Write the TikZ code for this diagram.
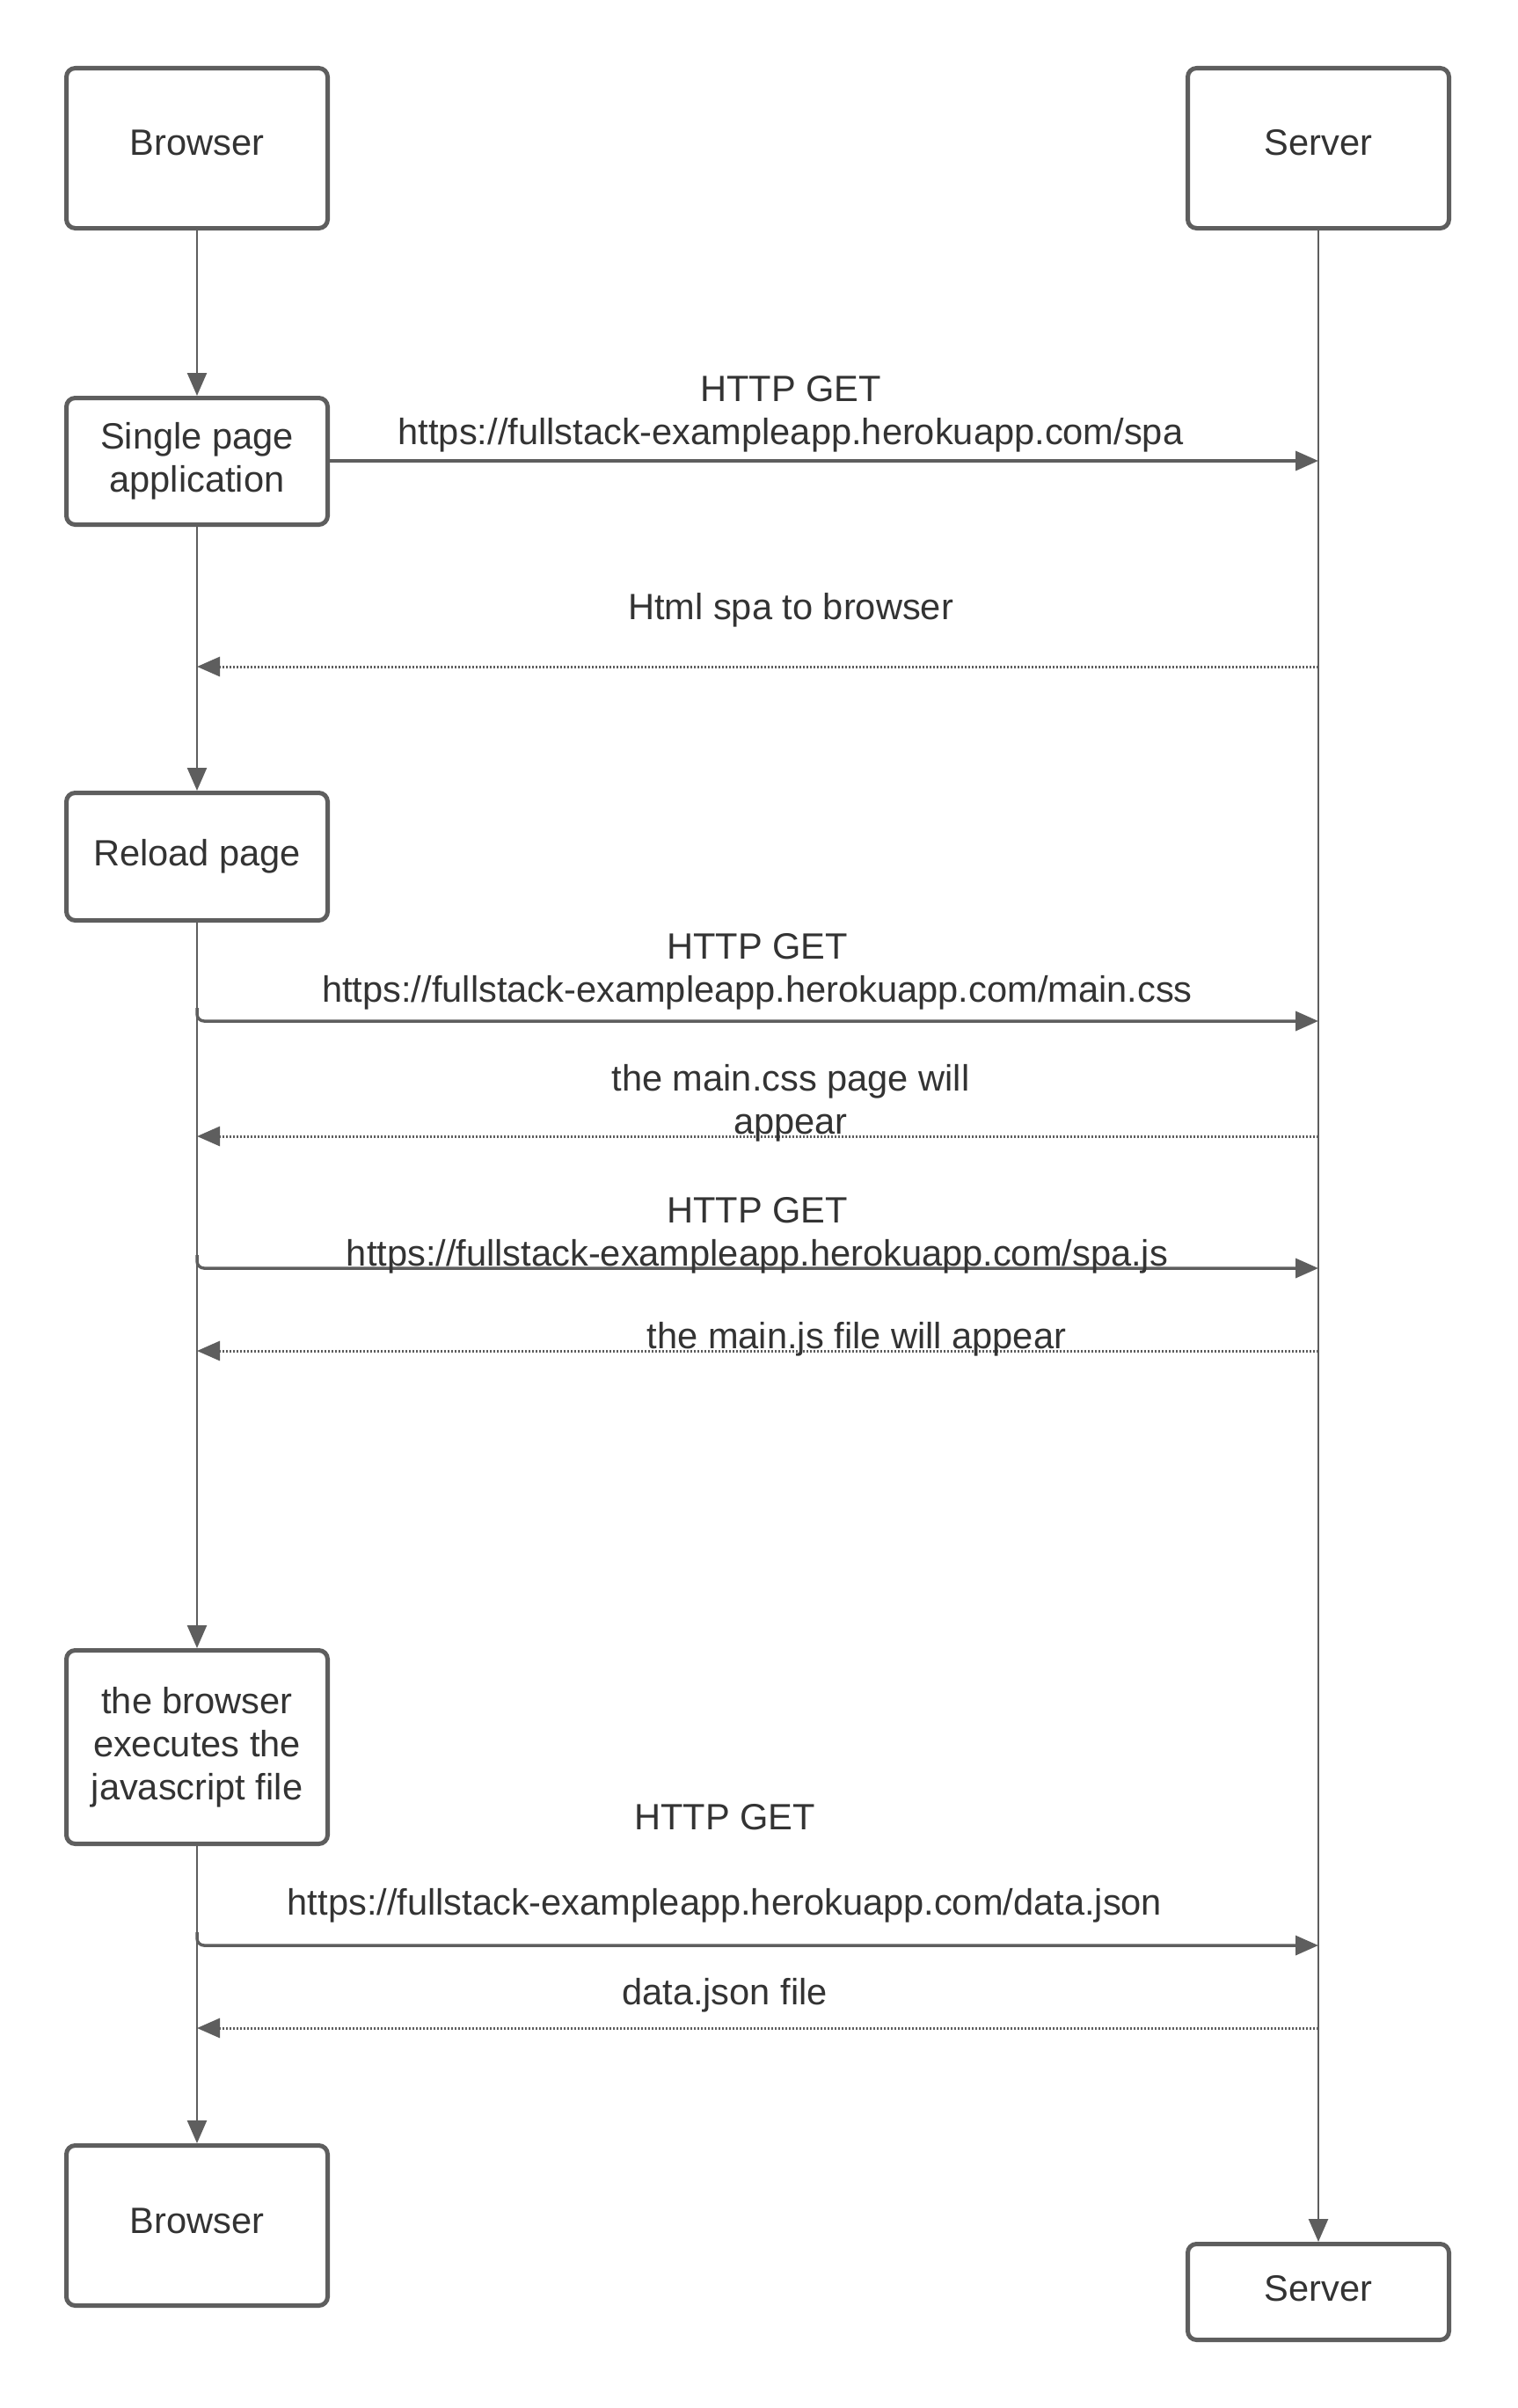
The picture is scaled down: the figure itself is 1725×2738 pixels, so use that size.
\documentclass[tikz,border=0pt]{standalone}
\usepackage{fontspec}
\setmainfont{Liberation Sans}
\usetikzlibrary{arrows.meta}
\definecolor{ln}{HTML}{5E5E5E}
\definecolor{tx}{HTML}{333333}
\newcommand\dfont{\fontsize{41.6}{49}\selectfont}
\begin{document}
\begin{tikzpicture}[x=1pt,y=-1pt,
 box/.style={draw=ln, line width=5pt, rounded corners=10pt, minimum width=297pt, inner sep=0pt, align=center, text=tx, font=\dfont},
 lbl/.style={text=tx, font=\dfont, align=center, inner sep=0pt},
 tip/.style={-{Triangle[length=26pt,width=22pt]}},
 req/.style={draw=ln, line width=3.5pt, tip},
 resp/.style={draw=ln, line width=3pt, dash pattern=on 2pt off 2pt, tip},
 life/.style={draw=ln, line width=2.5pt, tip}
]
\useasboundingbox (0,0) rectangle (1725,2738);
\fill[white] (0,0) rectangle (1725,2738);
% boxes
\node[box, minimum height=182pt] (b1) at (224,168.5) {};
\node[box, minimum height=182pt] (s1) at (1499,168.5) {};
\node[lbl] (b1t) at (224,162) {Browser};
\node[lbl] (s1t) at (1499,162) {Server};
\node[box, minimum height=144pt] (spa) at (224,524.5) {Single page\\application};
\node[box, minimum height=145pt] (reload) at (224,974) {Reload page};
\node[box, minimum height=220pt] (js) at (224,1986.5) {the browser\\executes the\\javascript file};
\node[box, minimum height=182pt] (b2) at (224,2530.5) {};
\node[lbl] (b2t) at (224,2525) {Browser};
\node[box, minimum height=109pt] (s2) at (1499,2606) {};
\node[lbl] (s2t) at (1499,2602) {Server};
% lifelines
\draw[life] (b1) -- (spa);
\draw[life] (spa) -- (reload);
\draw[life] (reload) -- (js);
\draw[life] (js) -- (b2);
\draw[life] (s1) -- (s2);
% coordinates
\coordinate (e1) at (1499,524);
\coordinate (c1s) at (1499,758);  \coordinate (c1e) at (224,758);
\coordinate (a2) at (224,1146);   \coordinate (e2) at (1499,1161);
\coordinate (c2s) at (1499,1292); \coordinate (c2e) at (224,1292);
\coordinate (a3) at (224,1427);   \coordinate (e3) at (1499,1442);
\coordinate (c3s) at (1499,1536); \coordinate (c3e) at (224,1536);
\coordinate (a4) at (224,2197);   \coordinate (e4) at (1499,2212);
\coordinate (c4s) at (1499,2306); \coordinate (c4e) at (224,2306);
% messages
\draw[req] (spa.east |- e1) -- (e1);
\draw[resp] (c1s) -- (c1e);
\draw[req, rounded corners=8pt] (a2) |- (e2);
\draw[resp] (c2s) -- (c2e);
\draw[req, rounded corners=8pt] (a3) |- (e3);
\draw[resp] (c3s) -- (c3e);
\draw[req, rounded corners=8pt] (a4) |- (e4);
\draw[resp] (c4s) -- (c4e);
% labels
\node[lbl] (l1) at (899,471) {HTTP GET\\https://fullstack-exampleapp.herokuapp.com/spa};
\node[lbl] (l2) at (899,694) {Html spa to browser};
\node[lbl] (l3) at (861,1105) {HTTP GET\\https://fullstack-exampleapp.herokuapp.com/main.css};
\node[lbl] (l4) at (899,1254) {the main.css page will\\appear};
\node[lbl] (l5) at (861,1405) {HTTP GET\\https://fullstack-exampleapp.herokuapp.com/spa.js};
\node[lbl] (l6) at (974,1523) {the main.js file will appear};
\node[lbl] (l7) at (824,2066) {HTTP GET};
\node[lbl] (l8) at (824,2167) {https://fullstack-exampleapp.herokuapp.com/data.json};
\node[lbl] (l9) at (824,2269) {data.json file};
\end{tikzpicture}
\end{document}
